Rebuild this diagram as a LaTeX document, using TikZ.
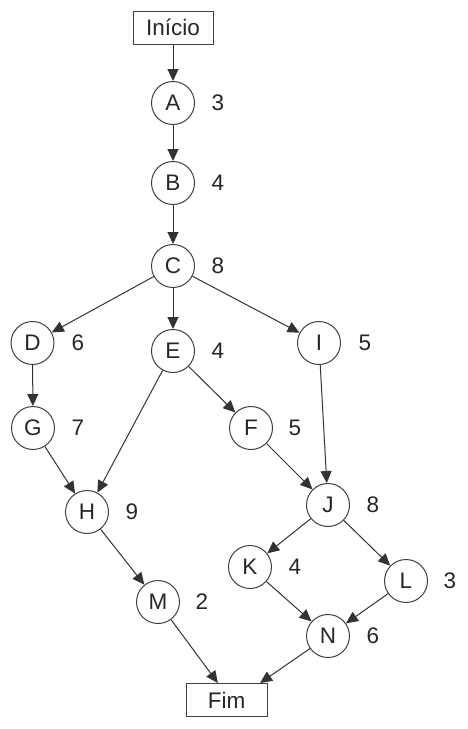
\documentclass[tikz,border=0pt]{standalone}
\usepackage{fontspec}
\setmainfont{Liberation Sans}
\usetikzlibrary{arrows.meta,calc}
\begin{document}
\begin{tikzpicture}[x=1pt,y=-1pt,
  every node/.style={font=\fontsize{22.5}{25}\selectfont, text=black!85},
  act/.style={circle,draw=black!75,line width=1pt,minimum size=43pt,inner sep=0pt},
  term/.style={rectangle,draw=black!75,line width=1pt,minimum width=80pt,minimum height=33pt,inner sep=0pt},
  dur/.style={inner sep=0pt},
  arr/.style={draw=black!80,line width=1pt,-{Triangle[length=12pt,width=11pt]}}]
\useasboundingbox (0,0) rectangle (467,729);
\node[term] (ini) at (173,27.5) {Início};
\node[act] (A) at (173,103) {A};
\node[act] (B) at (173,183) {B};
\node[act] (C) at (173,266) {C};
\node[act] (D) at (32.5,343) {D};
\node[act] (E) at (173,351) {E};
\node[act] (I) at (319,343) {I};
\node[act] (G) at (33,428) {G};
\node[act] (F) at (251,428) {F};
\node[act] (H) at (87,512) {H};
\node[act] (J) at (328,505) {J};
\node[act] (K) at (250,567) {K};
\node[act] (L) at (406,581) {L};
\node[act] (M) at (158,602) {M};
\node[act] (N) at (328,636) {N};
\node[term,minimum width=81pt] (fim) at (226.5,700) {Fim};
\node[dur] (dA) at (218,103) {3};
\node[dur] (dB) at (218,183) {4};
\node[dur] (dC) at (218,266) {8};
\node[dur] (dD) at (78,343) {6};
\node[dur] (dE) at (218,351) {4};
\node[dur] (dI) at (365,343) {5};
\node[dur] (dG) at (78,428) {7};
\node[dur] (dF) at (295,428) {5};
\node[dur] (dH) at (132,512) {9};
\node[dur] (dJ) at (373,505) {8};
\node[dur] (dK) at (295,567) {4};
\node[dur] (dL) at (450,581) {3};
\node[dur] (dM) at (202,602) {2};
\node[dur] (dN) at (373,636) {6};
\coordinate (fimM) at ($(fim.north west)!0.395!(fim.north east)$);
\coordinate (fimN) at ($(fim.north west)!0.91!(fim.north east)$);
\draw[arr] (ini) -- (A);
\draw[arr] (A) -- (B);
\draw[arr] (B) -- (C);
\draw[arr] (C) -- (D);
\draw[arr] (C) -- (E);
\draw[arr] (C) -- (I);
\draw[arr] (D) -- (G);
\draw[arr] (E) -- (H);
\draw[arr] (E) -- (F);
\draw[arr] (I) -- (J);
\draw[arr] (G) -- (H);
\draw[arr] (F) -- (J);
\draw[arr] (H) -- (M);
\draw[arr] (J) -- (K);
\draw[arr] (J) -- (L);
\draw[arr] (K) -- (N);
\draw[arr] (L) -- (N);
\draw[arr] (M) -- (fimM);
\draw[arr] (N) -- (fimN);
\end{tikzpicture}
\end{document}
